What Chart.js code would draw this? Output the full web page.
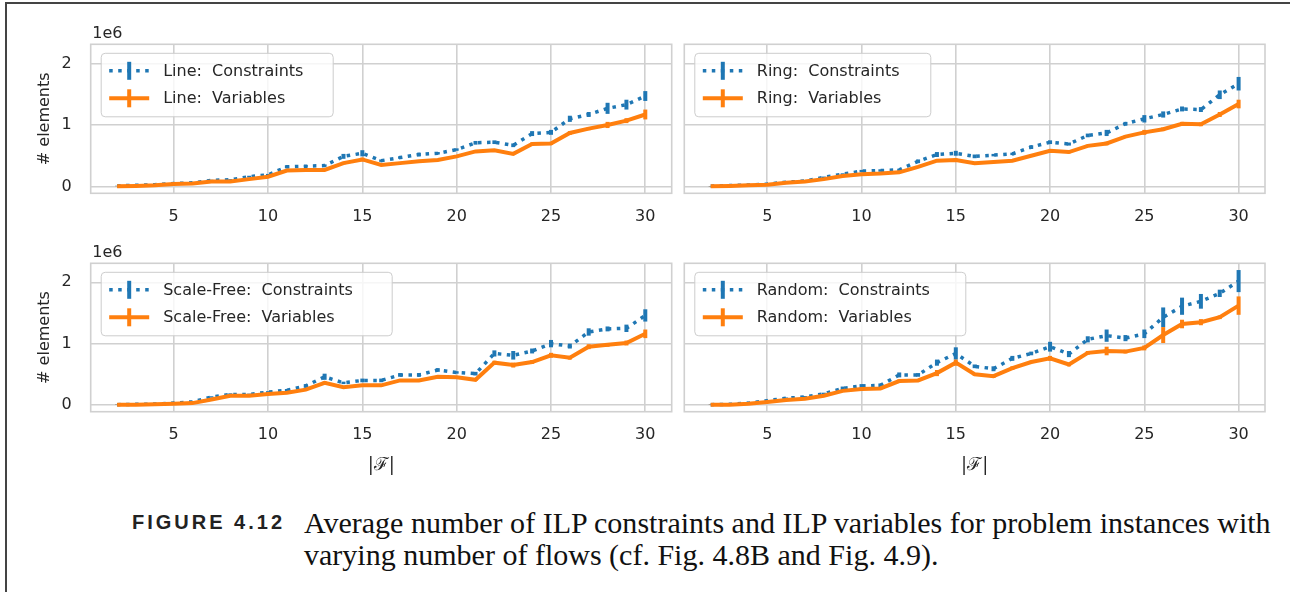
<!DOCTYPE html>
<html lang="en">
<head>
<meta charset="UTF-8">
<title>ILP constraints and variables</title>
<script src="https://cdn.jsdelivr.net/npm/chart.js"></script>
<style>
  html, body { margin:0; padding:0; background:#fff; }
  body { width:1290px; height:592px; position:relative; overflow:hidden; }
  canvas { position:absolute; }
  .edge { position:absolute; background:#444; }
  .cap { position:absolute; left:304px; font-family:'Liberation Serif', serif; color:#111; line-height:1; white-space:nowrap; }
  #figLabel { position:absolute; left:132px; top:512px; font:bold 20px 'Liberation Sans', sans-serif; letter-spacing:3px; color:#222; line-height:1; }
</style>
</head>
<body>
<div class="edge" style="left:5px; top:2px; width:2px; height:590px;"></div>
<div class="edge" style="left:5px; top:2px; width:1285px; height:2px;"></div>

<canvas id="cLine"  width="680" height="240" style="left:0;   top:0;"></canvas>
<canvas id="cRing"  width="610" height="240" style="left:680px; top:0;"></canvas>
<canvas id="cSF"    width="680" height="260" style="left:0;   top:240px;"></canvas>
<canvas id="cRand"  width="610" height="260" style="left:680px; top:240px;"></canvas>

<div id="figLabel">FIGURE 4.12</div>
<div class="cap" id="cap1" style="top:508px;">Average number of ILP constraints and ILP variables for problem instances with</div>
<div class="cap" id="cap2" style="top:540px;">varying number of flows (cf. Fig. 4.8B and Fig. 4.9).</div>

<script>
// number of flows |F|
const flows = [2,3,4,5,6,7,8,9,10,11,12,13,14,15,16,17,18,19,20,21,22,23,24,25,26,27,28,29,30];
const xTicks = [5,10,15,20,25,30];
const yTicks = [0,1,2];            // in units of 1e6

// values in 1e6 elements (mean, error)
const lineCons    = [0.01,0.02,0.03,0.05,0.06,0.10,0.11,0.16,0.19,0.32,0.33,0.34,0.49,0.54,0.42,0.47,0.52,0.54,0.60,0.71,0.72,0.67,0.86,0.88,1.10,1.17,1.27,1.33,1.47];
const lineConsErr = [0.003,0.004,0.005,0.006,0.008,0.01,0.01,0.015,0.015,0.025,0.02,0.02,0.04,0.05,0.02,0.02,0.03,0.02,0.02,0.03,0.03,0.03,0.04,0.04,0.05,0.04,0.09,0.08,0.08];
const lineVars    = [0.005,0.01,0.02,0.04,0.05,0.08,0.08,0.12,0.16,0.26,0.27,0.27,0.38,0.44,0.35,0.38,0.41,0.43,0.49,0.57,0.59,0.53,0.69,0.70,0.87,0.94,1.00,1.07,1.17];
const lineVarsErr = [0.002,0.003,0.004,0.005,0.006,0.008,0.008,0.01,0.012,0.015,0.015,0.015,0.02,0.03,0.015,0.015,0.02,0.015,0.015,0.02,0.02,0.02,0.025,0.025,0.03,0.025,0.05,0.04,0.08];

const ringCons    = [0.005,0.015,0.025,0.04,0.07,0.09,0.15,0.20,0.25,0.26,0.27,0.41,0.52,0.54,0.49,0.51,0.53,0.64,0.72,0.69,0.83,0.87,1.02,1.10,1.17,1.26,1.25,1.49,1.67];
const ringConsErr = [0.003,0.004,0.005,0.006,0.008,0.01,0.012,0.015,0.02,0.02,0.02,0.03,0.04,0.04,0.03,0.02,0.02,0.03,0.03,0.025,0.03,0.05,0.03,0.06,0.05,0.04,0.04,0.07,0.11];
const ringVars    = [0.003,0.01,0.02,0.03,0.06,0.08,0.12,0.17,0.20,0.21,0.23,0.32,0.42,0.43,0.38,0.40,0.42,0.50,0.58,0.56,0.66,0.70,0.81,0.88,0.93,1.02,1.01,1.17,1.34];
const ringVarsErr = [0.002,0.003,0.004,0.005,0.006,0.008,0.01,0.01,0.012,0.012,0.012,0.015,0.02,0.025,0.02,0.015,0.015,0.02,0.02,0.02,0.02,0.03,0.02,0.04,0.03,0.03,0.03,0.04,0.07];

const sfCons    = [0.005,0.01,0.015,0.03,0.05,0.13,0.17,0.17,0.21,0.24,0.31,0.46,0.36,0.40,0.40,0.49,0.49,0.57,0.53,0.51,0.84,0.81,0.88,1.00,0.96,1.19,1.24,1.25,1.46];
const sfConsErr = [0.003,0.004,0.005,0.006,0.01,0.012,0.02,0.015,0.015,0.02,0.03,0.05,0.02,0.03,0.03,0.03,0.03,0.03,0.02,0.03,0.05,0.07,0.04,0.06,0.04,0.06,0.04,0.06,0.1];
const sfVars    = [0.003,0.005,0.01,0.02,0.03,0.09,0.15,0.15,0.18,0.20,0.25,0.36,0.29,0.32,0.32,0.40,0.40,0.46,0.45,0.41,0.69,0.65,0.70,0.81,0.77,0.95,0.98,1.01,1.16];
const sfVarsErr = [0.002,0.003,0.004,0.005,0.006,0.01,0.012,0.01,0.01,0.012,0.015,0.025,0.015,0.02,0.02,0.02,0.02,0.02,0.015,0.02,0.03,0.04,0.03,0.04,0.03,0.04,0.03,0.04,0.07];

const rndCons    = [0.005,0.01,0.03,0.07,0.11,0.13,0.18,0.27,0.31,0.32,0.49,0.49,0.69,0.84,0.63,0.59,0.76,0.84,0.95,0.83,1.07,1.13,1.09,1.16,1.43,1.61,1.69,1.82,2.02];
const rndConsErr = [0.003,0.005,0.008,0.01,0.012,0.015,0.02,0.03,0.03,0.03,0.04,0.03,0.05,0.1,0.03,0.04,0.04,0.03,0.08,0.05,0.05,0.1,0.05,0.07,0.16,0.14,0.12,0.06,0.18];
const rndVars    = [0.003,0.005,0.02,0.05,0.08,0.10,0.15,0.23,0.26,0.27,0.39,0.40,0.52,0.69,0.50,0.47,0.60,0.70,0.76,0.66,0.85,0.88,0.87,0.93,1.14,1.32,1.35,1.43,1.62];
const rndVarsErr = [0.002,0.003,0.005,0.006,0.008,0.01,0.012,0.015,0.02,0.02,0.025,0.02,0.05,0.05,0.02,0.03,0.03,0.02,0.04,0.03,0.03,0.07,0.03,0.04,0.13,0.07,0.05,0.03,0.15];

const BLUE = '#1f77b4', ORANGE = '#ff7f0e', GRID = '#d0d0d0', TXT = '#262626';
const FONT = '"DejaVu Sans", sans-serif';

const pts = vals => flows.map((f, i) => ({ x: f, y: vals[i] }));

// frame around plot area
const framePlugin = {
  id: 'frame',
  beforeDatasetsDraw(chart) {
    const { ctx, chartArea: a } = chart;
    ctx.save();
    ctx.strokeStyle = GRID; ctx.lineWidth = 1.6;
    ctx.strokeRect(a.left, a.top, a.right - a.left, a.bottom - a.top);
    ctx.restore();
  }
};

// vertical error bars, drawn right after their own line
const errPlugin = {
  id: 'errbars',
  afterDatasetDraw(chart, args) {
    const ds = chart.data.datasets[args.index];
    if (!ds.errs) return;
    const { ctx } = chart, ys = chart.scales.y;
    ctx.save();
    ctx.strokeStyle = ds.borderColor; ctx.lineWidth = ds.errWidth; ctx.setLineDash([]);
    args.meta.data.forEach((p, i) => {
      const v = ds.data[i].y, e = ds.errs[i];
      ctx.beginPath();
      ctx.moveTo(p.x, ys.getPixelForValue(v - e));
      ctx.lineTo(p.x, ys.getPixelForValue(v + e));
      ctx.stroke();
    });
    ctx.restore();
  }
};

// matplotlib-like legend box in the upper left + "1e6" offset text
const boxPlugin = {
  id: 'box',
  afterDraw(chart, args, o) {
    const { ctx, chartArea: a } = chart;
    ctx.save();
    if (o.offsetText) {
      ctx.font = '16px ' + FONT; ctx.fillStyle = TXT;
      ctx.textAlign = 'left'; ctx.textBaseline = 'alphabetic';
      ctx.fillText(o.offsetText, a.left + 1.5, a.top - 6);
    }
    const bx = a.left + 10.5, by = a.top + 9, bw = o.width, bh = 63.5;
    ctx.beginPath();
    ctx.roundRect(bx, by, bw, bh, 4);
    ctx.fillStyle = 'rgba(255,255,255,0.8)'; ctx.fill();
    ctx.strokeStyle = '#cccccc'; ctx.lineWidth = 1; ctx.stroke();

    const order = [1, 0];   // constraints first, then variables
    order.forEach((di, row) => {
      const ds = chart.data.datasets[di];
      const cy = by + 17.5 + row * 27.5;
      ctx.strokeStyle = ds.borderColor; ctx.lineWidth = ds.borderWidth;
      ctx.setLineDash(ds.borderDash || []);
      ctx.beginPath(); ctx.moveTo(bx + 8, cy); ctx.lineTo(bx + 48, cy); ctx.stroke();
      ctx.setLineDash([]); ctx.lineWidth = ds.errWidth;
      ctx.beginPath(); ctx.moveTo(bx + 28, cy - 9); ctx.lineTo(bx + 28, cy + 9); ctx.stroke();
      ctx.font = '16px ' + FONT; ctx.fillStyle = TXT;
      ctx.textAlign = 'left'; ctx.textBaseline = 'middle';
      ctx.fillText(ds.label, bx + 62, cy + 1);
    });
    ctx.restore();
  }
};

function makeChart(id, name, cons, consErr, vars, varsErr, L) {
  new Chart(document.getElementById(id), {
    type: 'line',
    data: {
      datasets: [
        { label: name + ':  Variables', data: pts(vars), errs: varsErr, borderColor: ORANGE,
          borderWidth: 4, errWidth: 4, pointRadius: 0, tension: 0, order: 0 },
        { label: name + ':  Constraints', data: pts(cons), errs: consErr, borderColor: BLUE,
          borderWidth: 3.5, borderDash: [3.5, 5.5], errWidth: 4, pointRadius: 0, tension: 0, order: 1 }
      ]
    },
    options: {
      responsive: false, animation: false, devicePixelRatio: 1,
      layout: { padding: { top: L.top, right: L.right, left: 0, bottom: 0 } },
      plugins: { legend: { display: false }, tooltip: { enabled: false },
                 box: { width: L.legendW, offsetText: L.showY ? '1e6' : '' } },
      scales: {
        x: {
          type: 'linear', min: 0.6, max: 31.4,
          afterBuildTicks: s => { s.ticks = xTicks.map(v => ({ value: v })); },
          afterFit: s => { s.height = L.xh; s.paddingLeft = 0; s.paddingRight = 0; },
          grid: { color: GRID, lineWidth: 1.6, drawTicks: false },
          border: { display: false },
          ticks: { font: { family: FONT, size: 16 }, color: TXT, padding: 14, maxRotation: 0 },
          title: { display: L.xTitle, text: '|ℱ|', color: TXT,
                   font: { family: '"DejaVu Serif", serif', size: 18 }, padding: { bottom: 24 } }
        },
        y: {
          type: 'linear', min: -0.11, max: 2.31,
          afterBuildTicks: s => { s.ticks = yTicks.map(v => ({ value: v })); },
          afterFit: s => { s.width = L.yw; s.paddingTop = 0; s.paddingBottom = 0; },
          grid: { color: GRID, lineWidth: 1.6, drawTicks: false },
          border: { display: false },
          ticks: { display: L.showY, font: { family: FONT, size: 16 }, color: TXT, padding: 19,
                   callback: v => String(v) },
          title: { display: L.showY, text: '# elements', color: TXT,
                   font: { family: FONT, size: 16 }, padding: { top: 35 } }
        }
      }
    },
    plugins: [framePlugin, errPlugin, boxPlugin]
  });
}

makeChart('cLine', 'Line', lineCons, lineConsErr, lineVars, lineVarsErr,
  { top: 44.3, right: 8.3, yw: 90.7, xh: 46.7, showY: true, xTitle: false, legendW: 232 });
makeChart('cRing', 'Ring', ringCons, ringConsErr, ringVars, ringVarsErr,
  { top: 44.3, right: 25, yw: 4.3, xh: 46.7, showY: false, xTitle: false, legendW: 236 });
makeChart('cSF', 'Scale-Free', sfCons, sfConsErr, sfVars, sfVarsErr,
  { top: 23.3, right: 8.3, yw: 90.7, xh: 88.3, showY: true, xTitle: true, legendW: 291 });
makeChart('cRand', 'Random', rndCons, rndConsErr, rndVars, rndVarsErr,
  { top: 23.3, right: 25, yw: 4.3, xh: 88.3, showY: false, xTitle: true, legendW: 271 });

// fit caption to the reference width
(() => {
  const c = document.createElement('canvas').getContext('2d');
  c.font = "24px 'Liberation Serif'";
  const w = c.measureText(document.getElementById('cap1').textContent).width;
  const size = 24 * 969 / w;
  ['cap1', 'cap2'].forEach(id => document.getElementById(id).style.fontSize = size + 'px');
})();
</script>
</body>
</html>
